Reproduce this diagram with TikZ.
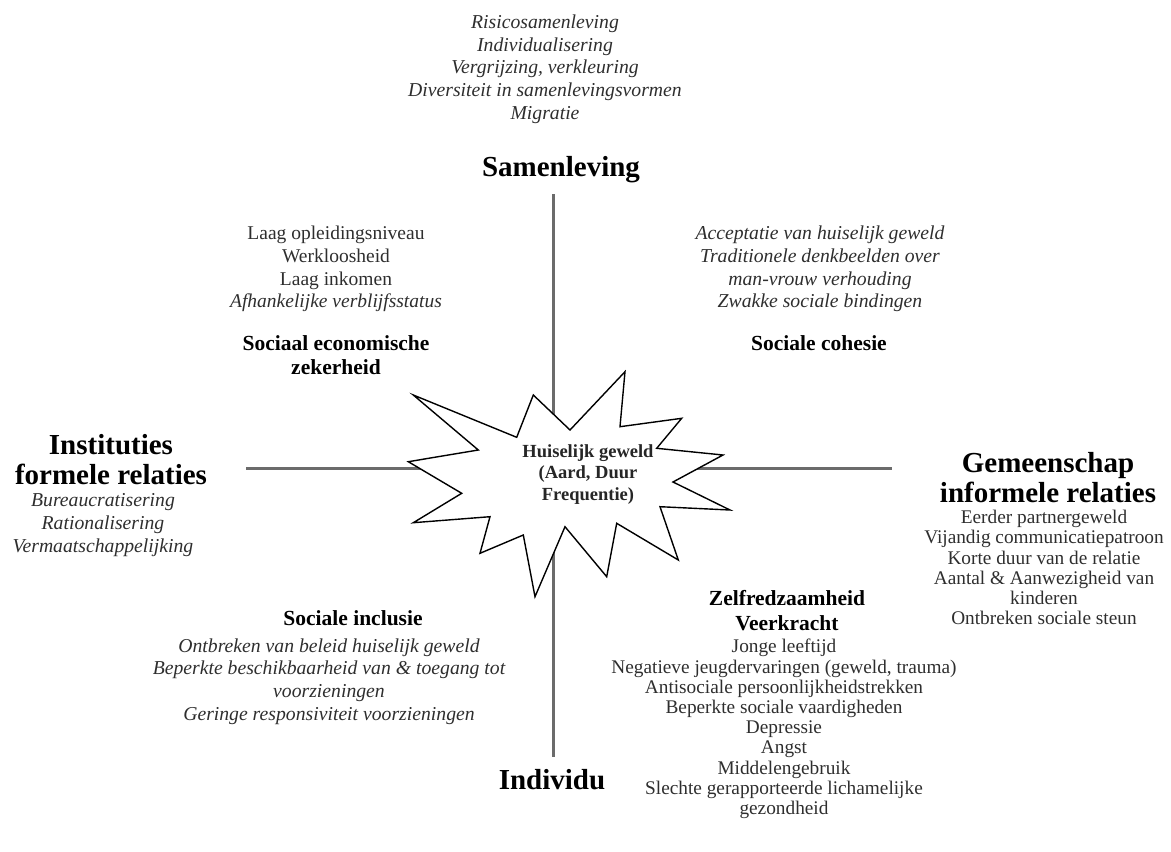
\documentclass[tikz,border=0pt]{standalone}
\usepackage{fontspec}
\setmainfont{Liberation Serif}
\begin{document}
\begin{tikzpicture}[x=1pt,y=-1pt,
  axis/.style={draw=black!58,line width=3pt},
  starshape/.style={draw=black,fill=white,line width=1.4pt,line join=miter},
  head/.style={inner sep=0pt,align=center,font=\bfseries\fontsize{29}{30}\selectfont},
  sub/.style={inner sep=0pt,align=center,font=\bfseries\fontsize{21.5}{24.5}\selectfont},
  body/.style={inner sep=0pt,align=center,text=black!82,font=\fontsize{19.5}{22.7}\selectfont},
  bodyit/.style={body,font=\itshape\fontsize{19.7}{22.7}\selectfont},
  tight/.style={font=\fontsize{19.3}{20.2}\selectfont}]
\useasboundingbox (0,0) rectangle (1171,852);
% axes
\coordinate (vtop) at (553,194);
\coordinate (vbot) at (553,757);
\coordinate (hleft) at (246,468);
\coordinate (hright) at (892,468);
\draw[axis] (vtop) -- (vbot);
\draw[axis] (hleft) -- (hright);
% star
\draw[starshape] (413.3,395) -- (516.7,437.3) -- (533.3,395) -- (570,430)
  -- (625,371.7) -- (620,426.7) -- (681.7,418.3) -- (656.7,448.3)
  -- (723,455) -- (673,482) -- (730,510) -- (660,506.7)
  -- (678.3,560) -- (616.7,523.3) -- (606.7,576.7) -- (565,526.7)
  -- (535,596.7) -- (523.3,535) -- (480,553.3) -- (490,516.7)
  -- (413.3,522.7) -- (461.7,493.3) -- (408.3,461.7) -- (478.3,450) -- cycle;
\node[sub,font=\bfseries\fontsize{18.5}{21.5}\selectfont,text=black!85] (hg) at (588,474.5)
  {Huiselijk geweld\\(Aard, Duur\\Frequentie)};
% top
\node[bodyit] (topitems) at (545,69) {Risicosamenleving\\Individualisering\\Vergrijzing, verkleuring\\Diversiteit in samenlevingsvormen\\Migratie};
\node[head] (samen) at (561,170) {Samenleving};
% top-left
\node[body] (tlitems) at (336,269) {Laag opleidingsniveau\\Werkloosheid\\Laag inkomen\\\textit{Afhankelijke verblijfsstatus}};
\node[sub] (sez) at (336,355) {Sociaal economische\\zekerheid};
% top-right
\node[bodyit] (tritems) at (820,269) {Acceptatie van huiselijk geweld\\Traditionele denkbeelden over\\man-vrouw verhouding\\Zwakke sociale bindingen};
\node[sub] (sc) at (819,343) {Sociale cohesie};
% left
\node[head] (inst) at (111,460) {Instituties\\formele relaties};
\node[bodyit] (litems) at (103,525) {Bureaucratisering\\Rationalisering\\Vermaatschappelijking};
% right
\node[head] (gem) at (1048,478) {Gemeenschap\\informele relaties};
\node[body,tight] (ritems) at (1044,567.5) {Eerder partnergeweld\\Vijandig communicatiepatroon\\Korte duur van de relatie\\Aantal \& Aanwezigheid van\\kinderen\\Ontbreken sociale steun};
% bottom-left
\node[sub] (si) at (353,618) {Sociale inclusie};
\node[bodyit] (blitems) at (329,681.5) {Ontbreken van beleid huiselijk geweld\\Beperkte beschikbaarheid van \& toegang tot\\voorzieningen\\Geringe responsiviteit voorzieningen};
% bottom
\node[head] (indiv) at (552,780) {Individu};
% bottom-right
\node[sub] (zv) at (787,610.5) {Zelfredzaamheid\\Veerkracht};
\node[body,tight] (britems) at (784,729) {Jonge leeftijd\\Negatieve jeugdervaringen (geweld, trauma)\\Antisociale persoonlijkheidstrekken\\Beperkte sociale vaardigheden\\Depressie\\Angst\\Middelengebruik\\Slechte gerapporteerde lichamelijke\\gezondheid};
\end{tikzpicture}
\end{document}
